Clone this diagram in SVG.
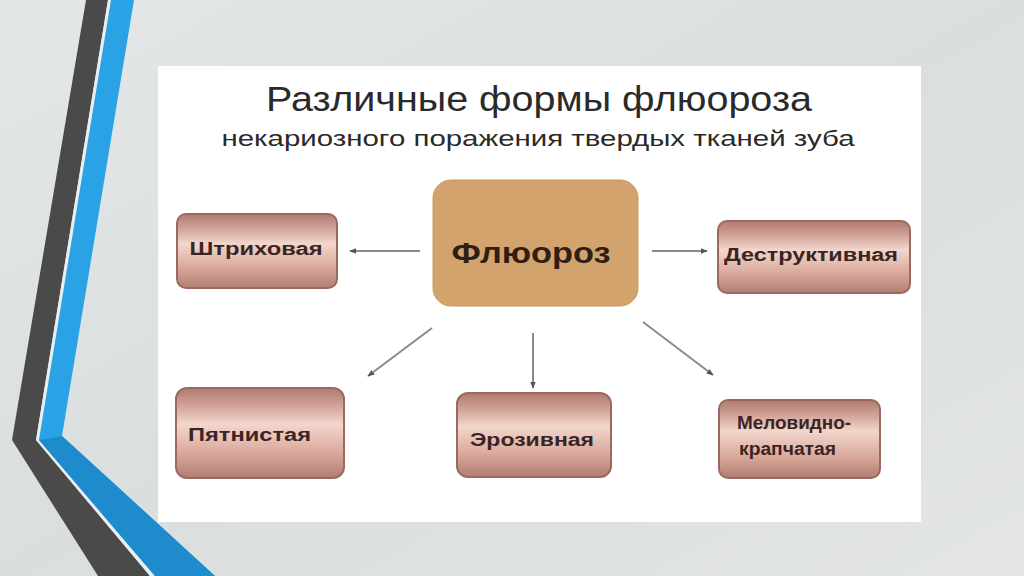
<svg xmlns="http://www.w3.org/2000/svg" width="1024" height="576" viewBox="0 0 1024 576">
<defs>
<linearGradient id="bg" x1="0" y1="0" x2="1" y2="1">
<stop offset="0" stop-color="#e4e7e8"/>
<stop offset="0.5" stop-color="#dadedf"/>
<stop offset="1" stop-color="#e3e5e6"/>
</linearGradient>
<linearGradient id="pink" x1="0" y1="0" x2="0" y2="1">
<stop offset="0" stop-color="#b07a70"/>
<stop offset="0.18" stop-color="#cf9f94"/>
<stop offset="0.4" stop-color="#f2d6cc"/>
<stop offset="0.7" stop-color="#dcac9f"/>
<stop offset="1" stop-color="#b27d72"/>
</linearGradient>
<marker id="ah" viewBox="0 0 10 10" refX="9" refY="5" markerWidth="7" markerHeight="7" orient="auto" markerUnits="userSpaceOnUse">
<path d="M0,1 L10,5 L0,9 Z" fill="#555"/>
</marker>
<style>
.box{fill:url(#pink);stroke:#9a6a60;stroke-width:2}
.lbl{font-family:"Liberation Sans","DejaVu Sans",sans-serif;font-size:18px;font-weight:bold;fill:#3a2524}
.con{stroke:#8a8a8a;stroke-width:2;fill:none;marker-end:url(#ah)}
.ttl{font-family:"Liberation Sans","DejaVu Sans",sans-serif;fill:#2a2a2a}
</style>
</defs>
<rect width="1024" height="576" fill="url(#bg)"/>
<!-- left decoration -->
<polygon points="86,0 108,0 36,440 150,576 98,576 12,440" fill="#4a4a4a"/>
<polygon points="108,0 111,0 39,440 155,576 150,576 36,440" fill="#e9eef0"/>
<polygon points="111,0 134,0 62,436 215,576 155,576 39,440" fill="#29a3e6"/>
<polygon points="39,440 62,436 215,576 155,576" fill="#1e8ccc"/>
<!-- panel -->
<rect x="158" y="66" width="763" height="456" fill="#ffffff"/>
<text class="ttl" x="539" y="111" font-size="35" text-anchor="middle" textLength="546" lengthAdjust="spacingAndGlyphs">Различные формы флюороза</text>
<text class="ttl" x="538" y="146" font-size="22" text-anchor="middle" textLength="633" lengthAdjust="spacingAndGlyphs">некариозного поражения твердых тканей зуба</text>
<g id="connectors">
<line class="con" x1="420" y1="251" x2="350" y2="251"/>
<line class="con" x1="652" y1="251" x2="707" y2="251"/>
<line class="con" x1="432" y1="328" x2="368" y2="376"/>
<line class="con" x1="533" y1="333" x2="533" y2="388"/>
<line class="con" x1="643" y1="322" x2="713" y2="375"/>
</g>
<g id="n-center">
<rect x="433" y="180" width="205" height="126" rx="18" fill="#d3a36d" stroke="#c9985f" stroke-width="1"/>
<text x="531" y="263" font-family="Liberation Sans,DejaVu Sans,sans-serif" font-size="30" font-weight="bold" fill="#2e1e14" text-anchor="middle" textLength="159" lengthAdjust="spacingAndGlyphs">Флюороз</text>
</g>
<g id="n-shtrih">
<rect class="box" x="177" y="214" width="160" height="74" rx="9"/>
<text class="lbl" x="256" y="255" text-anchor="middle" textLength="133" lengthAdjust="spacingAndGlyphs">Штриховая</text>
</g>
<g id="n-destr">
<rect class="box" x="718" y="221" width="192" height="72" rx="9"/>
<text class="lbl" x="811" y="261" text-anchor="middle" textLength="174" lengthAdjust="spacingAndGlyphs">Деструктивная</text>
</g>
<g id="n-pyatn">
<rect class="box" x="176" y="388" width="168" height="90" rx="11"/>
<text class="lbl" x="188" y="441" textLength="123" lengthAdjust="spacingAndGlyphs">Пятнистая</text>
</g>
<g id="n-eroz">
<rect class="box" x="457" y="393" width="154" height="84" rx="11"/>
<text class="lbl" x="532" y="446" text-anchor="middle" textLength="124" lengthAdjust="spacingAndGlyphs">Эрозивная</text>
</g>
<g id="n-melov">
<rect class="box" x="719" y="400" width="161" height="78" rx="9"/>
<text class="lbl" x="737" y="429" textLength="114" lengthAdjust="spacingAndGlyphs">Меловидно-</text>
<text class="lbl" x="739" y="455" textLength="97" lengthAdjust="spacingAndGlyphs">крапчатая</text>
</g>
</svg>
